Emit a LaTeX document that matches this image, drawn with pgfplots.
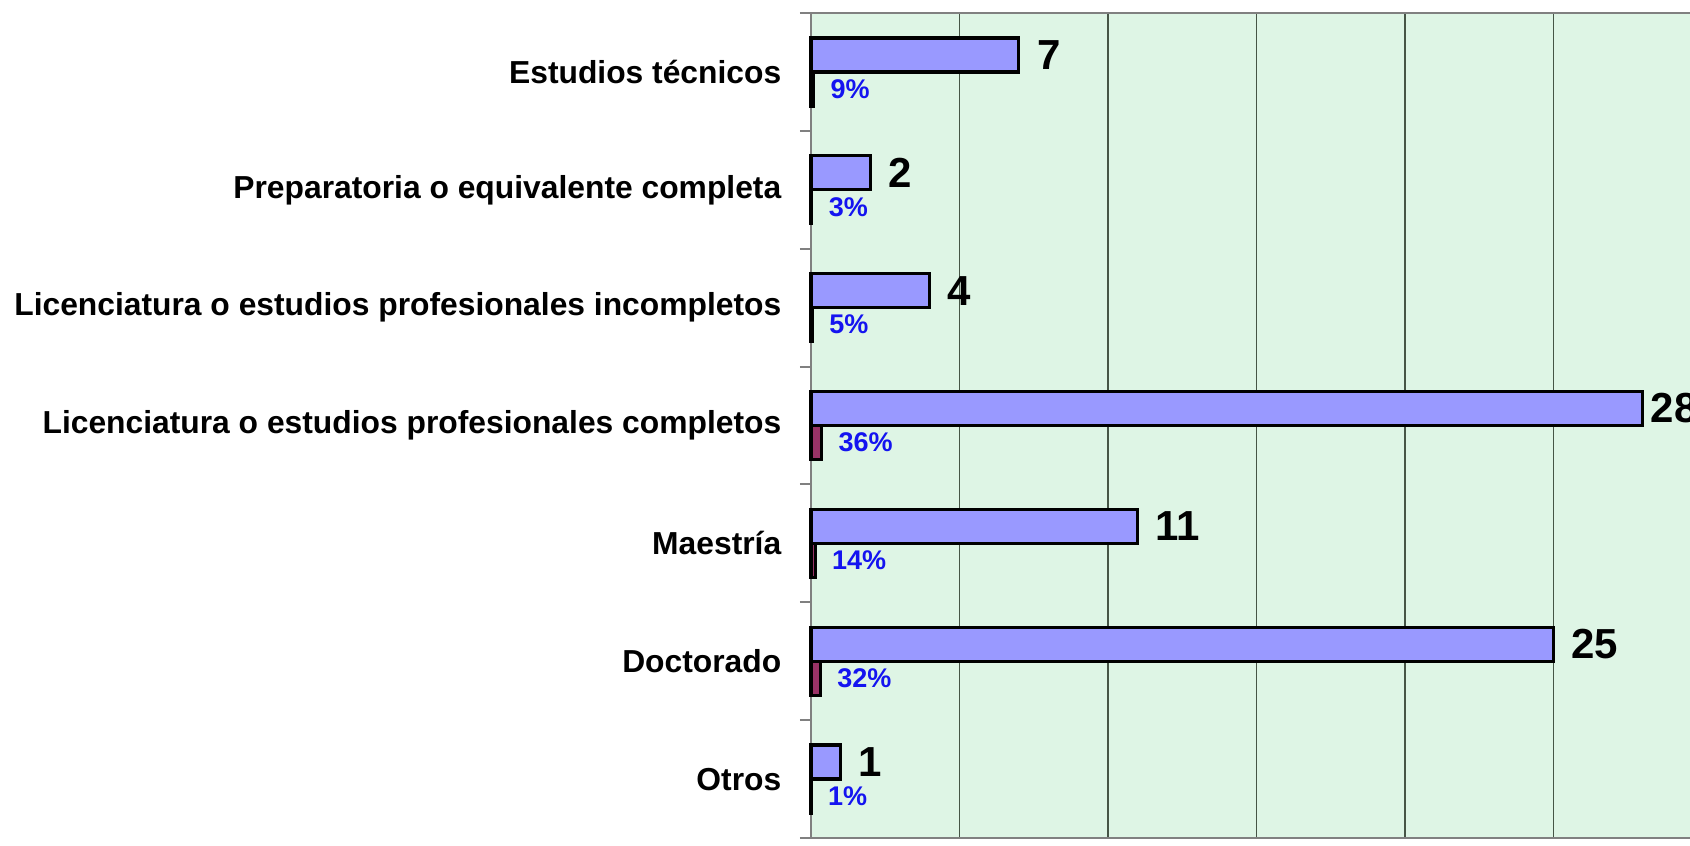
\documentclass[border=0pt]{standalone}
\usepackage{pgfplots}
\pgfplotsset{compat=1.18}
\usepackage{fontspec}
\setmainfont{Liberation Sans}
\definecolor{bg}{RGB}{222,245,229}
\definecolor{barblue}{RGB}{153,153,255}
\definecolor{barmaroon}{RGB}{153,51,102}
\definecolor{gridc}{RGB}{70,85,70}
\definecolor{pctblue}{RGB}{20,20,240}
\begin{document}
\begin{tikzpicture}
\begin{axis}[
  at={(0,0)}, anchor=south west,
  scale only axis,
  width=222.75pt, height=206.25pt,
  xmin=0, xmax=30, ymin=-0.5, ymax=6.5,
  clip=false,
  /pgf/number format/assume math mode=true,
  axis background/.style={fill=bg},
  axis line style={draw=gray, line width=0.6pt},
  xtick={5,10,...,30}, xticklabels={},
  major x tick style={draw=none},
  xmajorgrids, grid style={gridc, line width=0.4pt},
  ytick={0,...,6},
  yticklabels={Otros,Doctorado,Maestría,Licenciatura o estudios profesionales completos,Licenciatura o estudios profesionales incompletos,Preparatoria o equivalente completa,Estudios técnicos},
  yticklabel style={font=\fontsize{7.95}{9.5}\selectfont\bfseries, xshift=-3.9pt},
  major tick length=0pt,
  minor ytick={-0.5,0.5,...,6.5},
  minor y tick style={gray, line width=0.5pt},
  minor tick length=2.75pt,
  tick align=outside,
  ytick pos=left, xtick pos=bottom,
]
\addplot[xbar, bar width=8.5pt, bar shift=4.25pt, fill=barblue, draw=black, line width=0.8pt,
  point meta=explicit symbolic, nodes near coords,
  nodes near coords style={font=\fontsize{10.5}{12}\selectfont\bfseries, black, anchor=west, xshift=0.8pt, yshift=4.25pt}]
  coordinates {(7,6) [7] (2,5) [2] (4,4) [4] (28,3) [\hspace*{-2.5pt}28] (11,2) [11] (25,1) [25] (1,0) [1]};
\addplot[xbar, bar width=8.5pt, bar shift=-4.25pt, fill=barmaroon, draw=black, line width=0.8pt,
  point meta=explicit symbolic, nodes near coords,
  nodes near coords style={font=\fontsize{6.75}{8}\selectfont\bfseries, pctblue, anchor=west, xshift=0.5pt, yshift=-4.25pt}]
  coordinates {(0.09,6) [9\%] (0.03,5) [3\%] (0.05,4) [5\%] (0.36,3) [36\%] (0.14,2) [14\%] (0.32,1) [32\%] (0.01,0) [1\%]};
\end{axis}
\pgfresetboundingbox
\path[use as bounding box] (-202.75pt,-1.75pt) rectangle (219.75pt,209.5pt);
\end{tikzpicture}
\end{document}
